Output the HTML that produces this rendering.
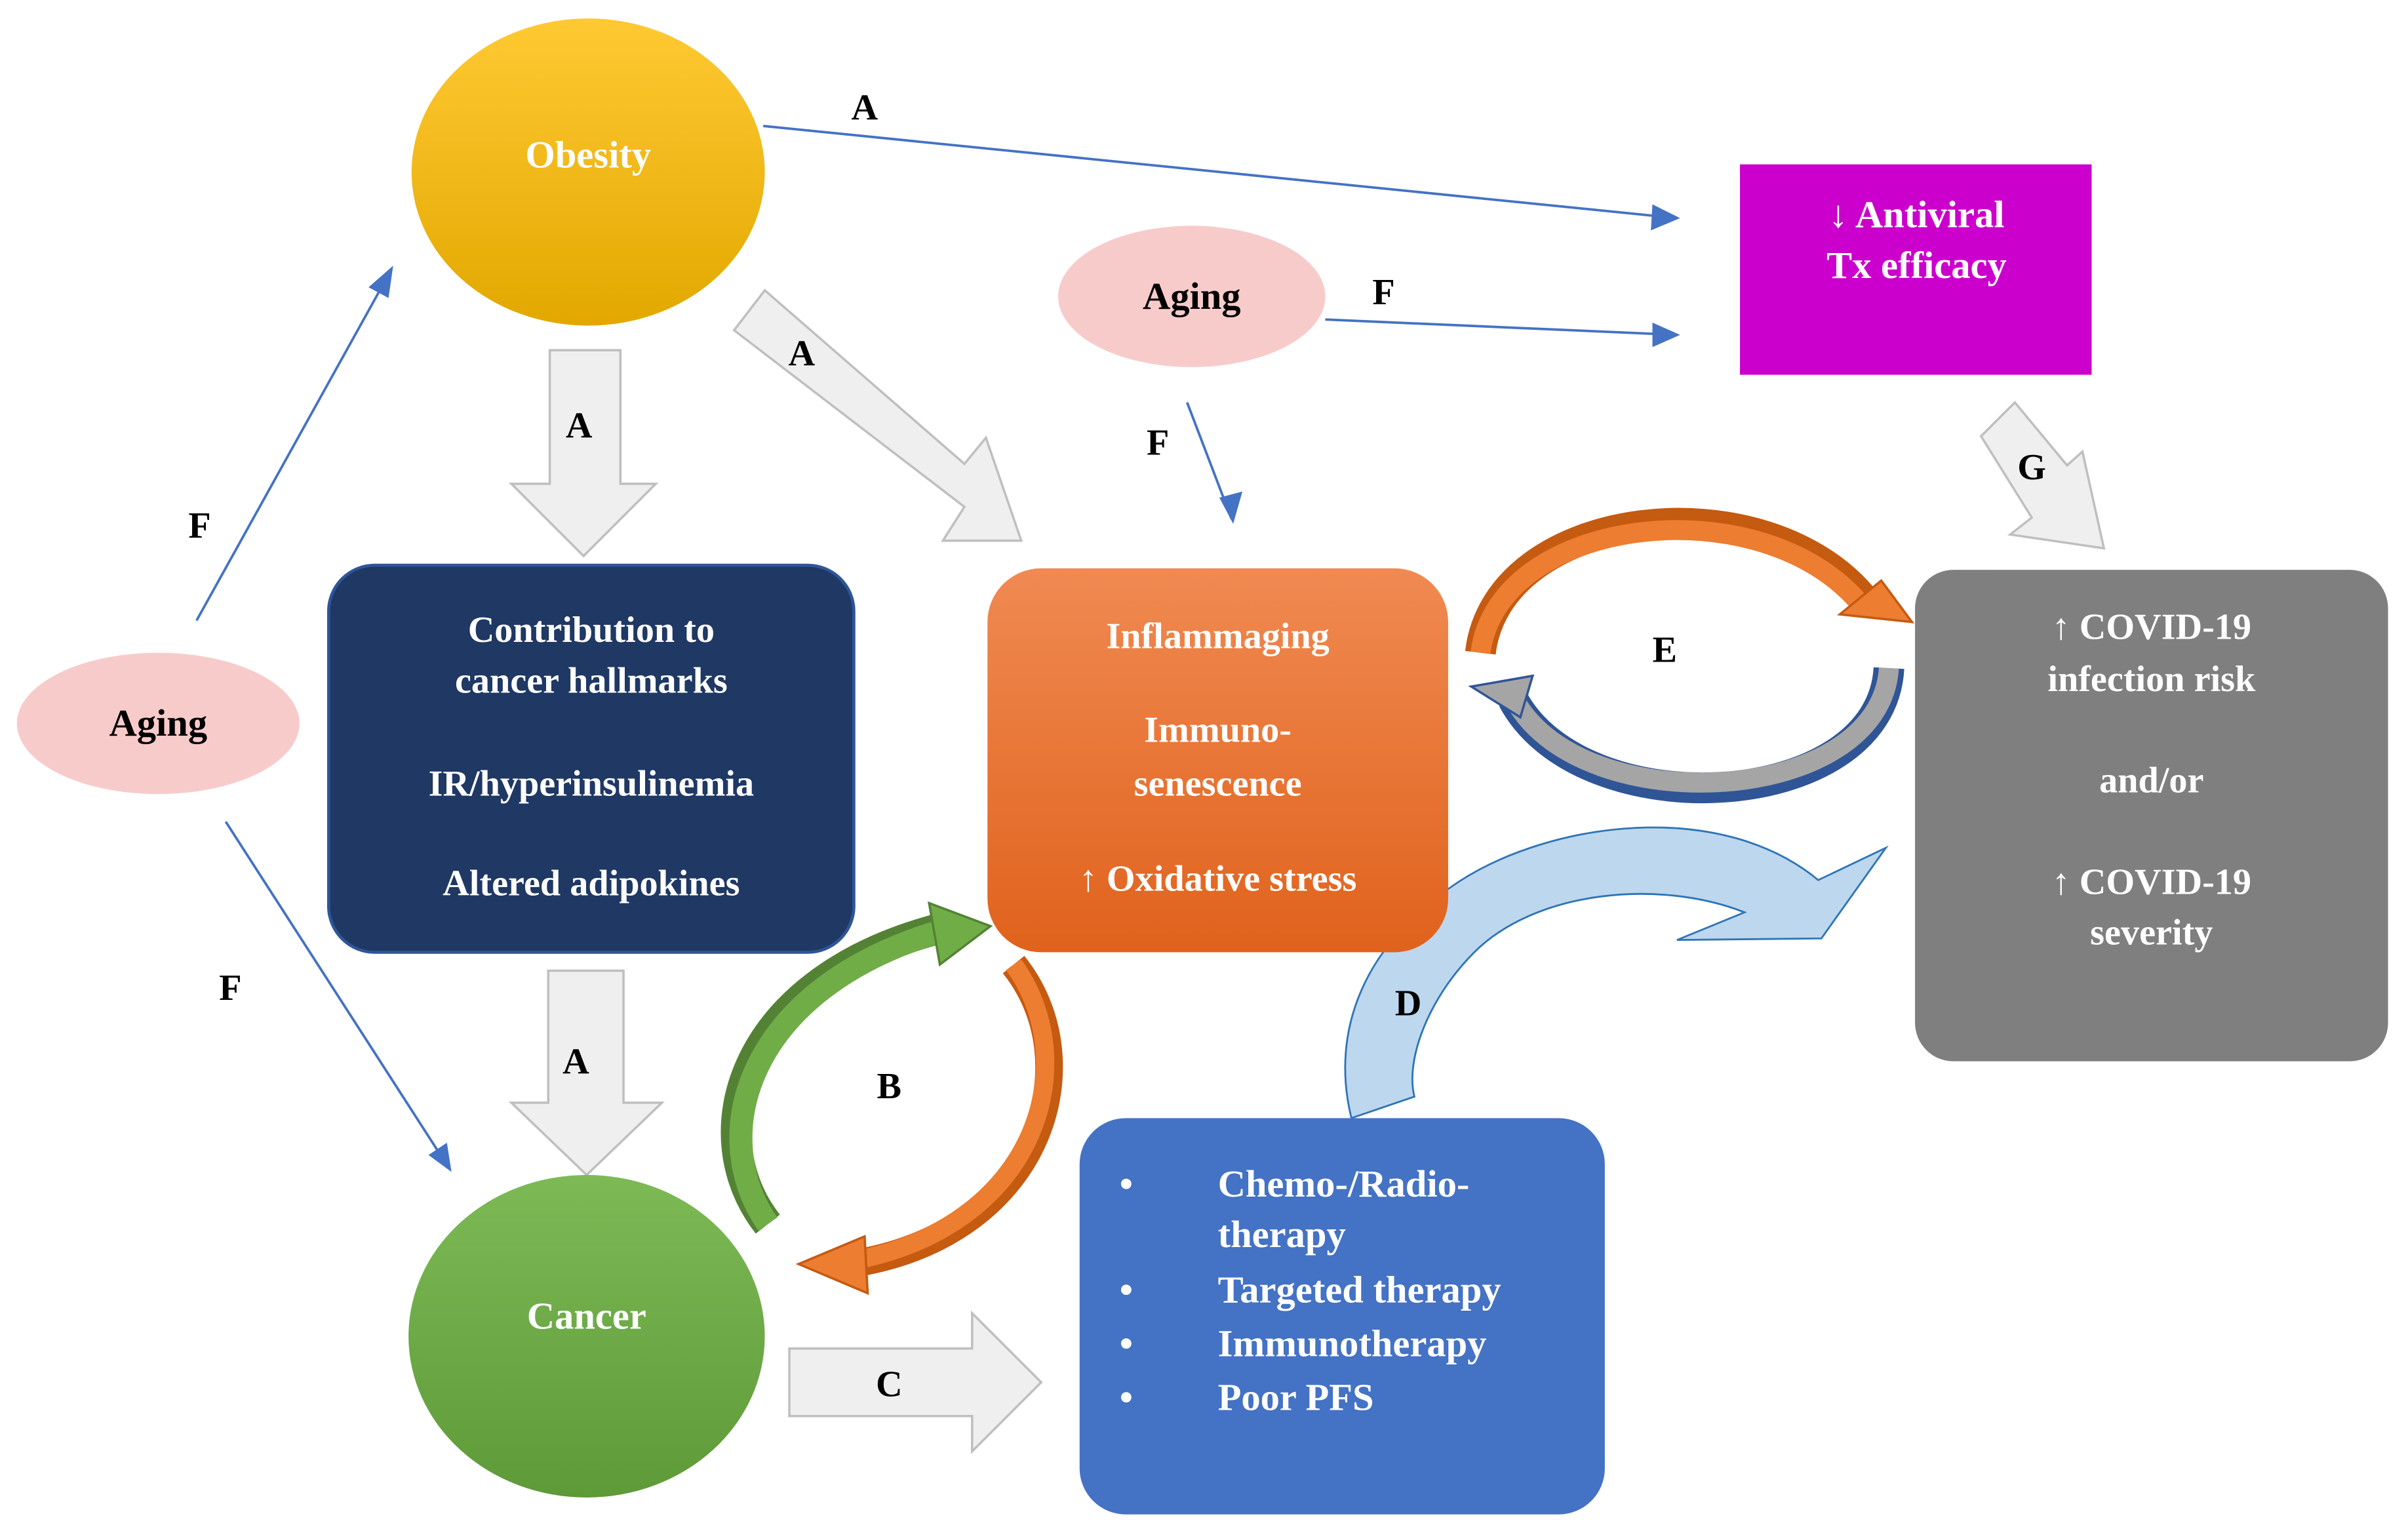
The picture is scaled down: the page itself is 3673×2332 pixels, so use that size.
<!DOCTYPE html>
<html><head><meta charset="utf-8"><style>
html,body{margin:0;padding:0;background:#fff}
svg{display:block}
text{font-family:"Liberation Serif",serif;font-weight:bold}
</style></head><body>
<svg width="3673" height="2332" viewBox="0 0 1568 995.5" xmlns="http://www.w3.org/2000/svg">
<defs>
<linearGradient id="gOb" x1="0" y1="0" x2="0" y2="1"><stop offset="0" stop-color="#FFC933"/><stop offset="1" stop-color="#E2A800"/></linearGradient>
<linearGradient id="gOr" x1="0" y1="0" x2="0" y2="1"><stop offset="0" stop-color="#F08A52"/><stop offset="1" stop-color="#E0621C"/></linearGradient>
<linearGradient id="gCa" x1="0" y1="0" x2="0" y2="1"><stop offset="0" stop-color="#7DBA56"/><stop offset="1" stop-color="#5E9A38"/></linearGradient>
</defs>
<rect width="1568" height="995.5" fill="#fff"/>

<!-- thin connectors -->
<g stroke="#4472C4" stroke-width="1.6" fill="none">
<line x1="497" y1="82" x2="1092" y2="142"/>
<line x1="863" y1="208" x2="1092" y2="218"/>
<line x1="773" y1="262" x2="802" y2="338"/>
<line x1="128" y1="404" x2="254" y2="177"/>
<line x1="147" y1="535" x2="292" y2="760"/>
</g>
<g fill="#4472C4">
<polygon points="1094,142 1076,133 1075,150"/>
<polygon points="1094,218 1076,210 1076,226"/>
<polygon points="803,341 794,324 809,320"/>
<polygon points="256,173 240,187 253,194"/>
<polygon points="294,763 279,752 291,744"/>
</g>

<!-- block arrows -->
<g fill="#EFEFEF" stroke="#BFBFBF" stroke-width="1.5">
<polygon points="358,228 404,228 404,315 427,315 380,362 333,315 358,315"/>
<polygon points="357,632 406,632 406,718 431,718 382,765 333,718 357,718"/>
<polygon points="514,878 633,878 633,855 678,900 633,945 633,922 514,922"/>
<polygon points="478,215 498,189 628,302 642,285 665,352 614,352 628,330"/>
<polygon points="1290,284 1312,262 1346,303 1356,294 1370,357 1309,348 1323,337"/>
</g>

<!-- D arc -->
<path d="M880,728 C868,680 880,620 950,574 C1010,535 1120,520 1184,573 L1228,552 L1186,611 L1092,612 L1136,594 C1080,572 1000,580 960,620 C930,650 915,690 921,714 Z" fill="#BDD7EE" stroke="#2E75B6" stroke-width="1.2"/>

<!-- shapes -->
<ellipse cx="383" cy="112" rx="115" ry="100" fill="url(#gOb)"/>
<text x="383" y="109" font-size="25" fill="#fff" text-anchor="middle">Obesity</text>

<ellipse cx="776" cy="193" rx="87" ry="46" fill="#F8CBCB"/>
<text x="776" y="201" font-size="25" fill="#000" text-anchor="middle">Aging</text>
<ellipse cx="103" cy="471" rx="92" ry="46" fill="#F8CBCB"/>
<text x="103" y="479" font-size="25" fill="#000" text-anchor="middle">Aging</text>

<rect x="1133" y="107" width="229" height="137" fill="#CC00CC"/>
<text x="1248" y="148" font-size="25" fill="#fff" text-anchor="middle">↓ Antiviral</text>
<text x="1248" y="181" font-size="25" fill="#fff" text-anchor="middle">Tx efficacy</text>

<rect x="214" y="368" width="342" height="252" rx="30" fill="#1F3864" stroke="#2F5597" stroke-width="2"/>
<g font-size="24" fill="#fff" text-anchor="middle">
<text x="385" y="418">Contribution to</text>
<text x="385" y="451">cancer hallmarks</text>
<text x="385" y="518">IR/hyperinsulinemia</text>
<text x="385" y="583">Altered adipokines</text>
</g>

<rect x="643" y="370" width="300" height="250" rx="35" fill="url(#gOr)"/>
<g font-size="24" fill="#fff" text-anchor="middle">
<text x="793" y="422">Inflammaging</text>
<text x="793" y="483">Immuno-</text>
<text x="793" y="518">senescence</text>
<text x="793" y="580">↑ Oxidative stress</text>
</g>

<rect x="1247" y="371" width="308" height="320" rx="25" fill="#7F7F7F"/>
<g font-size="24" fill="#fff" text-anchor="middle">
<text x="1401" y="416">↑ COVID-19</text>
<text x="1401" y="450">infection risk</text>
<text x="1401" y="516">and/or</text>
<text x="1401" y="582">↑ COVID-19</text>
<text x="1401" y="615">severity</text>
</g>

<rect x="703" y="728" width="342" height="258" rx="30" fill="#4472C4"/>
<g font-size="25" fill="#fff">
<text x="729" y="779">•</text><text x="793" y="779">Chemo-/Radio-</text>
<text x="793" y="812">therapy</text>
<text x="729" y="848">•</text><text x="793" y="848">Targeted therapy</text>
<text x="729" y="883">•</text><text x="793" y="883">Immunotherapy</text>
<text x="729" y="918">•</text><text x="793" y="918">Poor PFS</text>
</g>

<ellipse cx="382" cy="870" rx="116" ry="105" fill="url(#gCa)"/>
<text x="382" y="865" font-size="25" fill="#fff" text-anchor="middle">Cancer</text>

<!-- B curves -->
<path d="M500,797 C455,740 480,640 610,605" fill="none" stroke="#548235" stroke-width="20"/>
<path d="M500,797 C460,740 485,645 610,607" fill="none" stroke="#70AD47" stroke-width="15"/>
<polygon points="605,588 645,603 612,628" fill="#70AD47" stroke="#548235" stroke-width="1.5"/>
<path d="M660,628 C710,690 680,800 560,822" fill="none" stroke="#C55A11" stroke-width="18"/>
<path d="M660,628 C705,690 678,795 560,820" fill="none" stroke="#ED7D31" stroke-width="12"/>
<polygon points="563,805 520,823 565,842" fill="#ED7D31" stroke="#C55A11" stroke-width="1.5"/>

<!-- E curves -->
<path d="M964,425 C975,330 1150,310 1215,392" fill="none" stroke="#C55A11" stroke-width="20"/>
<path d="M964,425 C976,335 1148,316 1212,394" fill="none" stroke="#ED7D31" stroke-width="13"/>
<polygon points="1198,400 1245,405 1225,378" fill="#ED7D31" stroke="#C55A11" stroke-width="1.5"/>
<path d="M1230,435 C1225,530 1030,540 985,455" fill="none" stroke="#2F5597" stroke-width="20"/>
<path d="M1230,435 C1224,525 1032,535 987,457" fill="none" stroke="#A5A5A5" stroke-width="13"/>
<polygon points="958,447 998,440 990,467" fill="#A5A5A5" stroke="#2F5597" stroke-width="1.5"/>

<!-- labels -->
<g font-size="24" fill="#000" text-anchor="middle">
<text x="563" y="78">A</text>
<text x="522" y="238">A</text>
<text x="377" y="285">A</text>
<text x="901" y="198">F</text>
<text x="754" y="296">F</text>
<text x="130" y="350">F</text>
<text x="150" y="651">F</text>
<text x="375" y="699">A</text>
<text x="579" y="715">B</text>
<text x="579" y="909">C</text>
<text x="917" y="661">D</text>
<text x="1084" y="431">E</text>
<text x="1323" y="312">G</text>
</g>
</svg>
</body></html>
